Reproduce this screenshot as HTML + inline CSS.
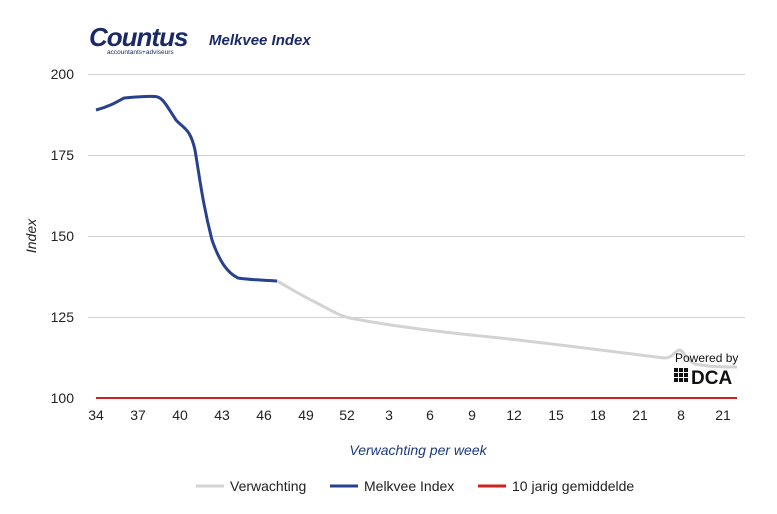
<!DOCTYPE html>
<html><head><style>
body{margin:0;background:#fff;width:777px;height:509px;overflow:hidden;font-family:"Liberation Sans",sans-serif}
</style></head><body>
<svg width="777" height="509" xmlns="http://www.w3.org/2000/svg" font-family="Liberation Sans, sans-serif">
<text x="89" y="46" font-size="26" font-weight="bold" fill="#1a2a66" font-style="italic" letter-spacing="-1">Countus</text>
<text x="107" y="54" font-size="6.5" fill="#1a2a66">accountants+adviseurs</text>
<text x="209" y="45" font-size="15" font-weight="bold" font-style="italic" fill="#1a2a66">Melkvee Index</text>
<g stroke="#d0d0d0" stroke-width="1">
<line x1="88" y1="74.5" x2="745" y2="74.5"/>
<line x1="88" y1="155.5" x2="745" y2="155.5"/>
<line x1="88" y1="236.5" x2="745" y2="236.5"/>
<line x1="88" y1="317.5" x2="745" y2="317.5"/>
</g>
<g font-size="14" fill="#222" text-anchor="end">
<text x="74" y="79">200</text><text x="74" y="160">175</text><text x="74" y="241">150</text><text x="74" y="322">125</text><text x="74" y="403">100</text>
</g>
<g font-size="14" fill="#222" text-anchor="middle">
<text x="96" y="420">34</text><text x="138" y="420">37</text><text x="180" y="420">40</text><text x="222" y="420">43</text><text x="264" y="420">46</text><text x="306" y="420">49</text><text x="347" y="420">52</text><text x="389" y="420">3</text><text x="430" y="420">6</text><text x="472" y="420">9</text><text x="514" y="420">12</text><text x="556" y="420">15</text><text x="598" y="420">18</text><text x="640" y="420">21</text><text x="681" y="420">8</text><text x="723" y="420">21</text>
</g>
<text transform="translate(36,236) rotate(-90)" font-size="14" font-style="italic" fill="#222" text-anchor="middle">Index</text>
<text x="418" y="455" font-size="14" font-style="italic" fill="#1a3a7a" text-anchor="middle">Verwachting per week</text>
<path d="M277,281 C290,288 300,295 315,302 C330,310 340,316 350,318 C380,324 420,330 500,338 C580,347 630,354 665,358 C672,358 674,352 679,350 C684,350 686,360 695,364 C710,367 725,367 737,367" fill="none" stroke="#d3d3d3" stroke-width="3"/>
<path d="M96,110 C108,107 115,103 124,98 C135,97 145,96 155,96.5 C163,97 166,105 176,120 C184,129 190,128 195,150 C200,180 203,205 212,240 C220,263 228,273 238,278 C250,280 265,280 277,281" fill="none" stroke="#27418f" stroke-width="3"/>
<line x1="96" y1="398" x2="737" y2="398" stroke="#cc2222" stroke-width="2"/>
<text x="675" y="362" font-size="12" fill="#111">Powered by</text>
<g fill="#111"><rect x="674" y="368" width="4" height="4"/><rect x="679" y="368" width="4" height="4"/><rect x="684" y="368" width="4" height="4"/><rect x="674" y="373" width="4" height="4"/><rect x="679" y="373" width="4" height="4"/><rect x="684" y="373" width="4" height="4"/><rect x="674" y="378" width="4" height="4"/><rect x="679" y="378" width="4" height="4"/><rect x="684" y="378" width="4" height="4"/></g>
<text x="691" y="384" font-size="19" font-weight="bold" fill="#111">DCA</text>
<line x1="196" y1="486" x2="224" y2="486" stroke="#d3d3d3" stroke-width="3"/>
<text x="230" y="491" font-size="14" fill="#222">Verwachting</text>
<line x1="330" y1="486" x2="358" y2="486" stroke="#27418f" stroke-width="3"/>
<text x="364" y="491" font-size="14" fill="#222">Melkvee Index</text>
<line x1="478" y1="486" x2="506" y2="486" stroke="#cc2222" stroke-width="3"/>
<text x="512" y="491" font-size="14" fill="#222">10 jarig gemiddelde</text>
</svg>
</body></html>
